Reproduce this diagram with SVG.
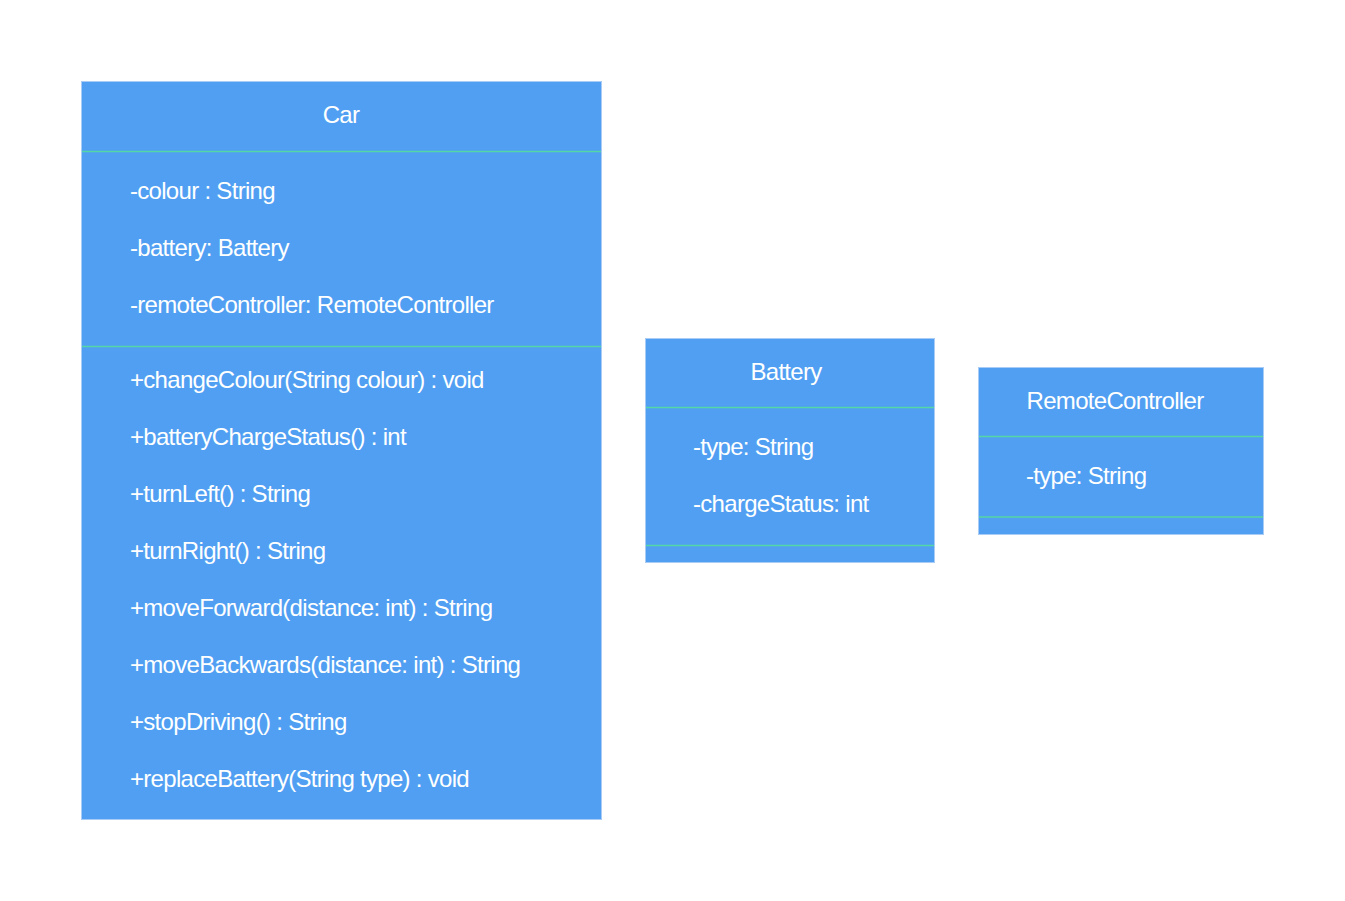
<svg xmlns="http://www.w3.org/2000/svg" width="1345" height="901" viewBox="0 0 1345 901">
<style>
.box{fill:#519ff2;stroke:#a8ccf5;stroke-width:1}
.div{stroke:#55d6a6;stroke-width:1.5}
text{font-family:"Liberation Sans",Arial,sans-serif;font-size:24px;fill:#ffffff;letter-spacing:-0.7px}
.t{text-anchor:middle}
</style>
<rect width="1345" height="901" fill="#ffffff"/>
<g id="car">
<rect class="box" x="81.5" y="81.5" width="520" height="738"/>
<line class="div" x1="82" y1="151.5" x2="601" y2="151.5"/>
<line class="div" x1="82" y1="346.5" x2="601" y2="346.5"/>
<text class="t" x="341" y="123">Car</text>
<text x="130" y="199">-colour : String</text>
<text x="130" y="256">-battery: Battery</text>
<text x="130" y="313">-remoteController: RemoteController</text>
<text x="130" y="388">+changeColour(String colour) : void</text>
<text x="130" y="445">+batteryChargeStatus() : int</text>
<text x="130" y="502">+turnLeft() : String</text>
<text x="130" y="559">+turnRight() : String</text>
<text x="130" y="616">+moveForward(distance: int) : String</text>
<text x="130" y="673">+moveBackwards(distance: int) : String</text>
<text x="130" y="730">+stopDriving() : String</text>
<text x="130" y="787">+replaceBattery(String type) : void</text>
</g>
<g id="battery">
<rect class="box" x="645.5" y="338.5" width="289" height="224"/>
<line class="div" x1="646" y1="407.5" x2="934" y2="407.5"/>
<line class="div" x1="646" y1="545.5" x2="934" y2="545.5"/>
<text class="t" x="786" y="380">Battery</text>
<text x="693" y="455">-type: String</text>
<text x="693" y="512">-chargeStatus: int</text>
</g>
<g id="remotecontroller">
<rect class="box" x="978.5" y="367.5" width="285" height="167"/>
<line class="div" x1="979" y1="436.5" x2="1263" y2="436.5"/>
<line class="div" x1="979" y1="517" x2="1263" y2="517"/>
<text class="t" x="1115" y="409">RemoteController</text>
<text x="1026" y="484">-type: String</text>
</g>
<g id="connectors"/>
</svg>
